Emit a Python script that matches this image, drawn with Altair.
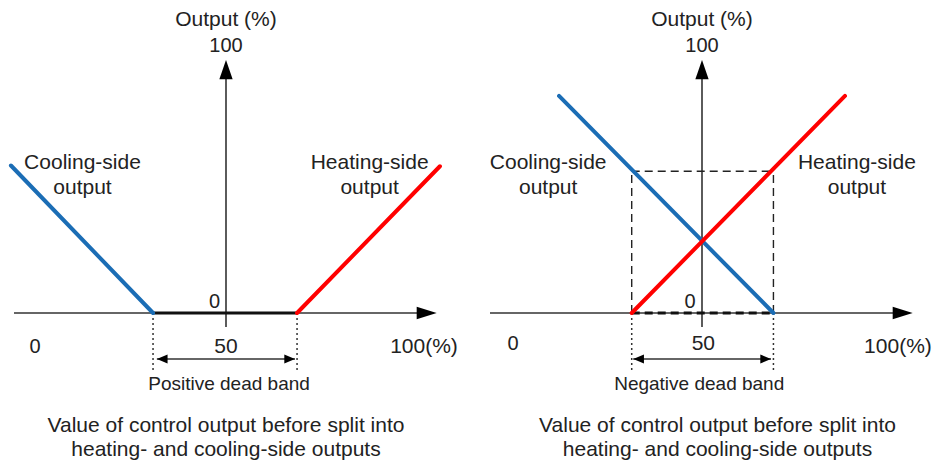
import altair as alt
import pandas as pd

FONT = "Liberation Sans"
TEXT_COLOR = "#222222"
AXIS_COLOR = "#333333"
BLUE = "#1b6db5"
RED = "#ff0000"

# ---- frame of each panel, in data units (control output %, output %) ----
LEFT_X_DOMAIN = [-7.068, 113.874]
RIGHT_X_DOMAIN = [-10.733, 110.733]
Y_DOMAIN = [-58.498, 120.553]
LEFT_W, RIGHT_W, PANEL_H = 462, 464, 453

# ---- axes ----
AXIS_X = [-5.5, 105.15]       # horizontal axis: start, arrow tip
AXIS_Y = [-5.5, 100.0]        # vertical axis: start, arrow tip
AXIS_CROSS = 50               # control output value where the output axis stands
DEADBAND_ARROW_Y = -18.18
DOTTED_BOTTOM = -22.5

# ---- left panel: positive dead band ----
POS_BAND = [30.9, 68.6]
POS_COOL_X = [-6.3, 30.9]
POS_COOL_Y = [58.3, 0.0]
POS_HEAT_X = [68.6, 106.0]
POS_HEAT_Y = [0.0, 58.0]
POS_ARROW = [31.9, 68.06]

# ---- right panel: negative dead band ----
NEG_BAND = [31.6, 68.7]
NEG_COOL_X = [12.57, 68.7]
NEG_COOL_Y = [85.8, 0.0]
NEG_HEAT_X = [31.6, 87.43]
NEG_HEAT_Y = [0.0, 85.8]
NEG_CROSS_Y = 56.0
NEG_ARROW = [32.0, 68.06]

# ---- labels ----
TOP_LABELS = ["Output (%)", "100"]
SIDE_LABELS = ["Cooling-side", "output", "Heating-side", "output"]
TICK_LABELS = ["0", "50", "100(%)"]
BOTTOM_LABELS = ["Value of control output before split into",
                 "heating- and cooling-side outputs"]
BAND_LABELS = ["Positive dead band", "Negative dead band"]

# label positions (x, baseline y) per panel
LEFT_TEXT_X = {"top": 50, "cool": 12.43, "heat": 87.6, "zero": 46.99,
               "ticks": [0, 50, 101.83], "band": 50.8, "bottom": 50}
RIGHT_TEXT_X = {"top": 50, "cool": 9.73, "heat": 90.55, "zero": 46.86,
                "ticks": [0.52, 50.35, 101.3], "band": 49.27, "bottom": 54.06}
TEXT_Y = {"top": [113.44, 103.28], "side": [56.8, 46.92], "zero": 1.98,
          "band": -30.43, "bottom": [-46.92, -56.4]}
LEFT_TICK_Y = [-15.81, -15.81, -15.81]
RIGHT_TICK_Y = [-14.62, -14.62, -15.81]

HEAD_RIGHT = "M0,0L-2,-0.63L-2,0.63Z"
HEAD_UP = "M0,0L-0.69,2L0.69,2Z"
HEAD_SMALL_L = "M0,0L2,-0.84L2,0.84Z"
HEAD_SMALL_R = "M0,0L-2,-0.84L-2,0.84Z"


def rules(df, xs, ys, **mark):
    return alt.Chart(df).mark_rule(**mark).encode(
        x=alt.X("x:Q", scale=xs, axis=None),
        y=alt.Y("y:Q", scale=ys, axis=None),
        x2="x2:Q", y2="y2:Q")


def panel(xdom, width, band, cool_x, cool_y, heat_x, heat_y, arrow,
          tx, tick_y, band_label, negative):
    xs = alt.Scale(domain=xdom, nice=False, zero=False)
    ys = alt.Scale(domain=Y_DOMAIN, nice=False, zero=False)
    layers = []

    axes = pd.DataFrame({
        "x": [AXIS_X[0], AXIS_CROSS, arrow[0]],
        "x2": [AXIS_X[1] - 3, AXIS_CROSS, arrow[1]],
        "y": [0, AXIS_Y[0], DEADBAND_ARROW_Y],
        "y2": [0, AXIS_Y[1] - 4, DEADBAND_ARROW_Y],
    })
    layers.append(rules(axes, xs, ys, color=AXIS_COLOR, strokeWidth=1.6))

    dotted = pd.DataFrame({"x": band, "x2": band, "y": [0, 0],
                           "y2": [DOTTED_BOTTOM, DOTTED_BOTTOM]})
    layers.append(rules(dotted, xs, ys, color=AXIS_COLOR, strokeWidth=1.5,
                        strokeDash=[2, 3]))

    base = pd.DataFrame({"x": [band[0]], "x2": [band[1]], "y": [0], "y2": [0]})
    if negative:
        layers.append(rules(base, xs, ys, color="#111111", strokeWidth=3,
                            strokeDash=[8, 5]))
        guides = pd.DataFrame({
            "x": [band[0], band[0], band[1]],
            "x2": [band[1], band[0], band[1]],
            "y": [NEG_CROSS_Y, 0, 0],
            "y2": [NEG_CROSS_Y, NEG_CROSS_Y, NEG_CROSS_Y],
        })
        layers.append(rules(guides, xs, ys, color="#222222", strokeWidth=1.4,
                            strokeDash=[8, 5]))
    else:
        layers.append(rules(base, xs, ys, color="#111111", strokeWidth=3))

    cool = pd.DataFrame({"x": [cool_x[0]], "x2": [cool_x[1]],
                         "y": [cool_y[0]], "y2": [cool_y[1]]})
    heat = pd.DataFrame({"x": [heat_x[0]], "x2": [heat_x[1]],
                         "y": [heat_y[0]], "y2": [heat_y[1]]})
    layers.append(rules(cool, xs, ys, color=BLUE, strokeWidth=4, strokeCap="round"))
    layers.append(rules(heat, xs, ys, color=RED, strokeWidth=4, strokeCap="round"))

    heads = pd.DataFrame({
        "x": [AXIS_X[1], AXIS_CROSS, arrow[0], arrow[1]],
        "y": [0, AXIS_Y[1], DEADBAND_ARROW_Y, DEADBAND_ARROW_Y],
        "shape": [HEAD_RIGHT, HEAD_UP, HEAD_SMALL_L, HEAD_SMALL_R],
        "size": [400, 372, 114, 114],
    })
    layers.append(alt.Chart(heads).mark_point(filled=True, opacity=1,
                                              color="#000000", strokeWidth=0).encode(
        x=alt.X("x:Q", scale=xs, axis=None),
        y=alt.Y("y:Q", scale=ys, axis=None),
        shape=alt.Shape("shape:N", scale=None),
        size=alt.Size("size:Q", scale=None),
    ))

    texts = pd.DataFrame({
        "x": [tx["top"], tx["top"], tx["cool"], tx["cool"], tx["heat"], tx["heat"],
              tx["zero"]] + tx["ticks"] + [tx["band"], tx["bottom"], tx["bottom"]],
        "y": TEXT_Y["top"] + TEXT_Y["side"] + TEXT_Y["side"] + [TEXT_Y["zero"]]
             + tick_y + [TEXT_Y["band"]] + TEXT_Y["bottom"],
        "t": TOP_LABELS + SIDE_LABELS[:2] + SIDE_LABELS[2:] + ["0"] + TICK_LABELS
             + [band_label] + BOTTOM_LABELS,
        "fs": [21, 20, 21, 21, 21, 21, 20, 20, 21, 21, 19, 21, 21],
    })
    layers.append(alt.Chart(texts).mark_text(
        align="center", baseline="alphabetic", font=FONT, color=TEXT_COLOR).encode(
        x=alt.X("x:Q", scale=xs, axis=None),
        y=alt.Y("y:Q", scale=ys, axis=None),
        text="t:N",
        size=alt.Size("fs:Q", scale=None),
    ))

    return alt.layer(*layers).properties(width=width, height=PANEL_H)


left = panel(LEFT_X_DOMAIN, LEFT_W, POS_BAND, POS_COOL_X, POS_COOL_Y,
             POS_HEAT_X, POS_HEAT_Y, POS_ARROW, LEFT_TEXT_X, LEFT_TICK_Y,
             BAND_LABELS[0], False)
right = panel(RIGHT_X_DOMAIN, RIGHT_W, NEG_BAND, NEG_COOL_X, NEG_COOL_Y,
              NEG_HEAT_X, NEG_HEAT_Y, NEG_ARROW, RIGHT_TEXT_X, RIGHT_TICK_Y,
              BAND_LABELS[1], True)

chart = alt.hconcat(left, right, spacing=0).properties(
    padding=0, background="white"
).configure_view(stroke=None)

chart.save("out.html", embed_options={"renderer": "svg", "actions": False})
